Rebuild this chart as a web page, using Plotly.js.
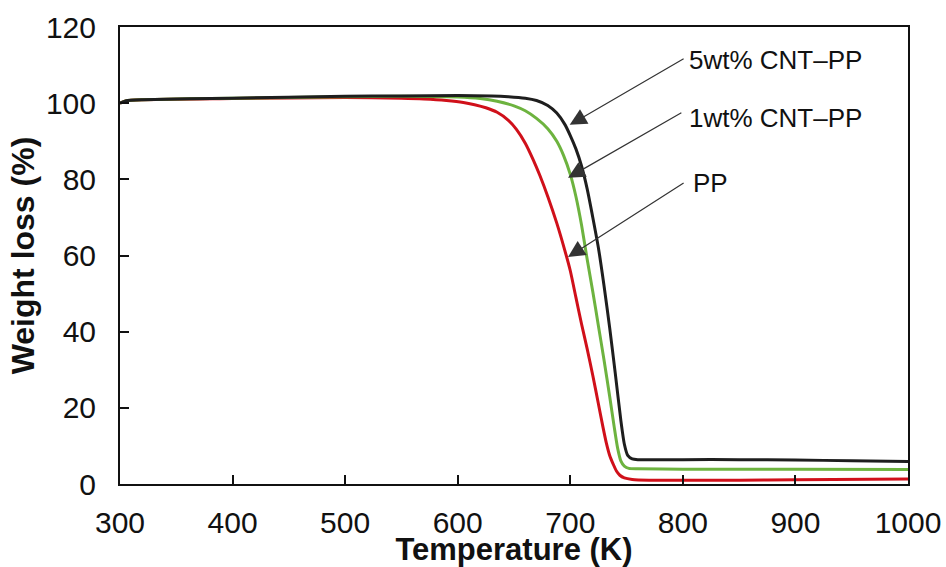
<!DOCTYPE html>
<html>
<head>
<meta charset="utf-8">
<script src="https://cdn.plot.ly/plotly-3.0.1.min.js"></script>
<style>
  html, body { margin: 0; padding: 0; background: #ffffff; }
  #chart { width: 946px; height: 567px; }
</style>
</head>
<body>
<div id="chart"></div>
<script>
// Thermogravimetric curves: remaining weight vs temperature

// 5 wt% CNT–PP composite
const tempCnt5 = [300, 305, 320, 400, 500, 550, 600, 630, 645, 660, 670, 680, 688, 695, 700, 705, 710, 715, 720, 725, 730, 735, 740, 745, 748, 751, 755, 760, 800, 850, 900, 950, 1000];
const wtCnt5   = [100.0, 100.6, 100.9, 101.3, 101.8, 101.9, 102.0, 101.9, 101.7, 101.3, 100.7, 99.4, 97.4, 94.5, 91.5, 88.0, 83.5, 77.5, 70.0, 62.0, 52.0, 41.0, 29.0, 16.5, 10.5, 7.5, 6.6, 6.4, 6.4, 6.4, 6.3, 6.1, 5.9];

// 1 wt% CNT–PP composite
const tempCnt1 = [300, 305, 320, 400, 500, 550, 600, 620, 635, 650, 660, 670, 680, 688, 694, 700, 705, 710, 715, 720, 725, 730, 735, 739, 742, 745, 748, 752, 760, 800, 900, 1000];
const wtCnt1   = [100.0, 100.6, 100.9, 101.3, 101.7, 101.8, 101.6, 101.2, 100.5, 99.3, 98.0, 96.0, 93.3, 90.0, 86.3, 81.3, 75.5, 68.0, 59.0, 50.5, 41.5, 32.5, 23.0, 15.0, 9.5, 6.0, 4.7, 4.1, 4.0, 3.9, 3.9, 3.8];

// neat PP
const tempPP = [300, 305, 320, 400, 500, 550, 570, 590, 605, 615, 625, 635, 645, 652, 660, 667, 673, 680, 688, 695, 700, 705, 710, 715, 720, 725, 729, 732, 735, 738, 741, 744, 748, 755, 770, 850, 900, 1000];
const wtPP   = [100.0, 100.6, 100.9, 101.2, 101.5, 101.3, 101.1, 100.7, 100.2, 99.6, 98.8, 97.6, 95.5, 93.2, 89.5, 85.2, 81.0, 75.5, 68.5, 61.5, 56.0, 49.0, 42.0, 35.5, 28.5, 21.0, 15.0, 10.8, 7.5, 5.3, 3.4, 2.3, 1.6, 1.2, 1.0, 1.0, 1.1, 1.3];

// arrow labels: text, arrow tip (T, wt), arrow tail (T, wt), text anchor (T, wt)
const labelText  = ['5wt% CNT–PP', '1wt% CNT–PP', 'PP'];
const labelTipT  = [699.5, 698, 698];
const labelTipW  = [94.3, 80.4, 59.6];
const labelTailT = [802, 800, 802];
const labelTailW = [111.9, 97.7, 79.3];
const labelTextT = [804, 804, 807];
const labelTextW = [111.3, 96.2, 79.0];

const xTicks = [300, 400, 500, 600, 700, 800, 900, 1000];
const yTicks = [0, 20, 40, 60, 80, 100, 120];

const FONT = 'Liberation Sans, Arial, sans-serif';

const traces = [
  { x: tempPP,   y: wtPP,   name: 'PP',          mode: 'lines', line: { color: '#d0101a', width: 3, shape: 'spline', smoothing: 0.6 } },
  { x: tempCnt1, y: wtCnt1, name: '1wt% CNT–PP', mode: 'lines', line: { color: '#6db33f', width: 3, shape: 'spline', smoothing: 0.6 } },
  { x: tempCnt5, y: wtCnt5, name: '5wt% CNT–PP', mode: 'lines', line: { color: '#1e1e1e', width: 3, shape: 'spline', smoothing: 0.6 } }
];

const annotations = [];
for (let i = 0; i < labelText.length; i++) {
  annotations.push({
    x: labelTipT[i], y: labelTipW[i], xref: 'x', yref: 'y',
    ax: labelTailT[i], ay: labelTailW[i], axref: 'x', ayref: 'y',
    text: '', showarrow: true, arrowhead: 2, arrowsize: 2.8, arrowwidth: 1.2,
    arrowcolor: '#333333', standoff: 0, startstandoff: 0
  });
  annotations.push({
    x: labelTextT[i], y: labelTextW[i], xref: 'x', yref: 'y',
    text: labelText[i], showarrow: false, xanchor: 'left', yanchor: 'middle',
    font: { family: FONT, size: 26, color: '#111111' }
  });
}

const layout = {
  width: 946, height: 567,
  margin: { l: 120, r: 38, t: 27, b: 83 },
  paper_bgcolor: '#ffffff', plot_bgcolor: '#ffffff',
  showlegend: false,
  font: { family: FONT, color: '#111111' },
  xaxis: {
    range: [300, 1000], tickvals: xTicks, ticktext: xTicks.map(String),
    showgrid: false, zeroline: false,
    showline: true, linecolor: '#111111', linewidth: 2, mirror: true,
    ticks: 'inside', ticklen: 9, tickwidth: 2, tickcolor: '#111111',
    ticklabelstandoff: 11,
    tickfont: { family: FONT, size: 30, color: '#111111' },
    title: { text: 'Temperature (K)', standoff: 3, font: { family: FONT, size: 31, weight: 'bold', color: '#111111' } }
  },
  yaxis: {
    range: [0, 120], tickvals: yTicks, ticktext: yTicks.map(String),
    showgrid: false, zeroline: false,
    showline: true, linecolor: '#111111', linewidth: 2, mirror: true,
    ticks: 'inside', ticklen: 9, tickwidth: 2, tickcolor: '#111111',
    ticklabelstandoff: 16,
    tickfont: { family: FONT, size: 30, color: '#111111' },
    title: { text: 'Weight loss (%)', standoff: 2, font: { family: FONT, size: 32, weight: 'bold', color: '#111111' } }
  },
  annotations: annotations
};

Plotly.newPlot('chart', traces, layout, { staticPlot: true, displayModeBar: false });
</script>
</body>
</html>
